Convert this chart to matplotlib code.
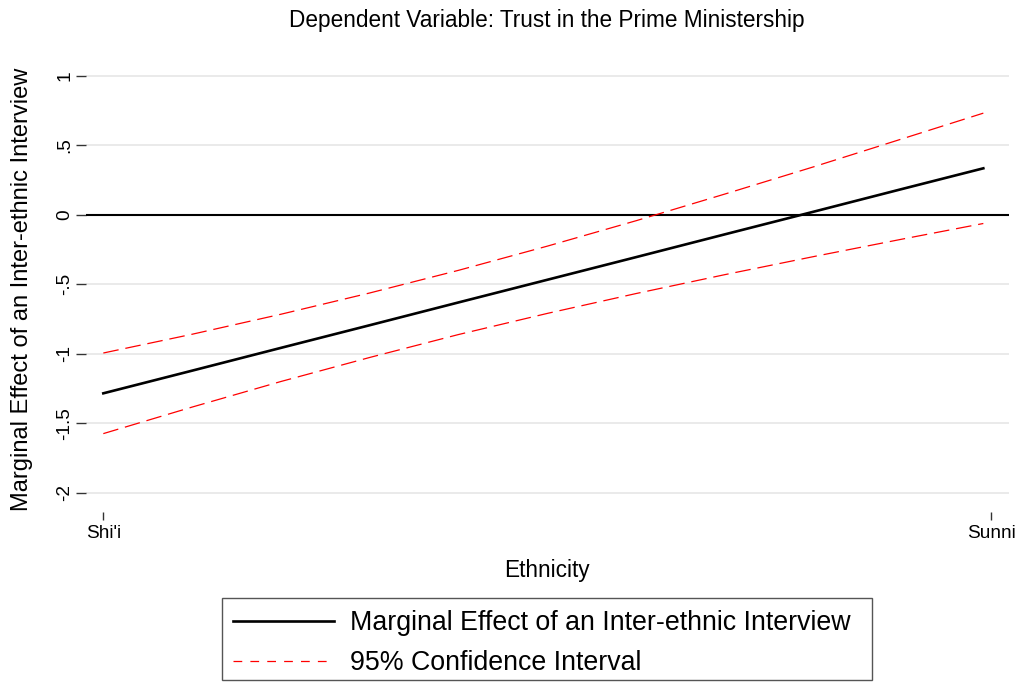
import matplotlib
matplotlib.use("Agg")
import matplotlib.pyplot as plt
from matplotlib.lines import Line2D
from matplotlib.patches import Rectangle

plt.rcParams['font.family'] = ['Liberation Sans', 'DejaVu Sans']

# ethnicity scale: 0 = Shi'i, 1 = Sunni
ethnicity = [0.0, 0.1, 0.2, 0.3, 0.4, 0.5, 0.6, 0.7, 0.8, 0.9, 0.991]
marg_effect = [-1.285, -1.122, -0.958, -0.795, -0.631, -0.468, -0.305, -0.141, 0.022, 0.186, 0.334]
ci_upper = [-0.995, -0.860, -0.716, -0.563, -0.400, -0.226, -0.043, 0.149, 0.345, 0.547, 0.731]
ci_lower = [-1.575, -1.384, -1.200, -1.027, -0.862, -0.710, -0.567, -0.431, -0.301, -0.175, -0.063]

x_ticks = [0, 1]
x_labels = ["Shi'i", "Sunni"]
y_ticks = [-2, -1.5, -1, -0.5, 0, 0.5, 1]
y_labels = ["-2", "-1.5", "-1", "-.5", "0", ".5", "1"]

W, H = 1020, 685
fig = plt.figure(figsize=(W / 100, H / 100), dpi=100)
ax = fig.add_axes([86 / W, 1 - 512 / H, (1009 - 86) / W, (512 - 62) / H])

ax.set_xlim(-0.0195, 1.0199)
ax.set_ylim(-2.139, 1.099)

ax.yaxis.grid(True, color='#e8e8e8', lw=1.3)
ax.set_axisbelow(True)
for s in ax.spines.values():
    s.set_visible(False)

ax.axhline(0, color='black', lw=1.5, zorder=2)
ax.plot(ethnicity, marg_effect, color='black', lw=1.9, zorder=3)
ax.plot(ethnicity, ci_upper, color='red', lw=0.9, ls=(0, (12.5, 5.5)), zorder=3)
ax.plot(ethnicity, ci_lower, color='red', lw=0.9, ls=(0, (12.5, 5.5)), zorder=3)

ax.set_xticks(x_ticks)
ax.set_xticklabels(x_labels, fontsize=13.7)
ax.set_yticks(y_ticks)
ax.set_yticklabels(y_labels, fontsize=13.7, rotation=90, va='center')
ax.tick_params(axis='x', length=6, width=1, color='#333333', pad=3)
ax.tick_params(axis='y', length=7.2, width=1, color='#333333', pad=2)

fig.text(547 / W, 1 - 20 / H, "Dependent Variable: Trust in the Prime Ministership",
         ha='center', va='center', fontsize=16.3)
fig.text(547 / W, 1 - 571 / H, "Ethnicity", ha='center', va='center', fontsize=16.3)
fig.text(22 / W, 1 - 289 / H, "Marginal Effect of an Inter-ethnic Interview",
         ha='center', va='center', rotation=90, fontsize=17)

# legend: frame drawn separately so the padding can match
handles = [Line2D([], [], color='black', lw=1.9),
           Line2D([], [], color='red', lw=0.9, ls=(0, (7, 6.5)))]
fig.legend(handles, ["Marginal Effect of an Inter-ethnic Interview", "95% Confidence Interval"],
           loc='upper left', bbox_to_anchor=(233 / W, 1 - 610.5 / H),
           fontsize=19.3, frameon=False, borderaxespad=0, borderpad=0,
           handlelength=3.77, handletextpad=0.6, labelspacing=0.5)
fig.add_artist(Rectangle((222 / W, 1 - 680 / H), 650 / W, 82 / H, transform=fig.transFigure,
                         fill=False, edgecolor='#555555', lw=1.0))

fig.savefig("out.png", dpi=100)
